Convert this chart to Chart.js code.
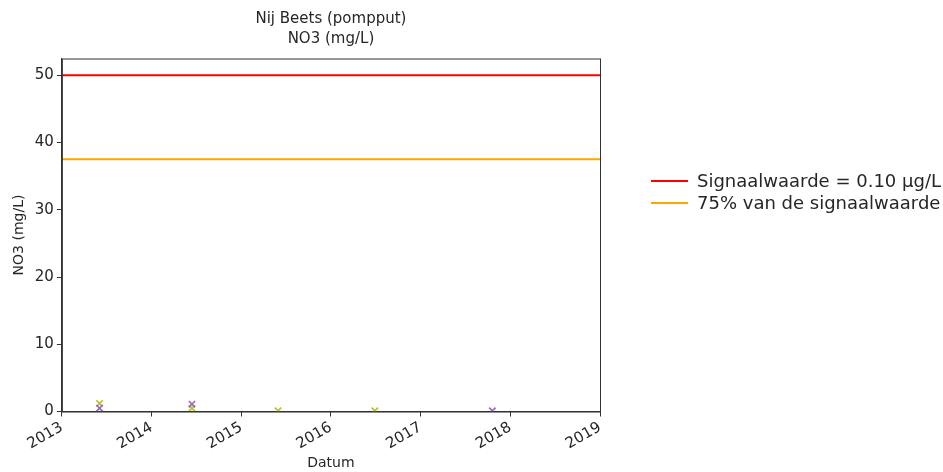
<!DOCTYPE html>
<html>
<head>
<meta charset="utf-8">
<script src="https://cdn.jsdelivr.net/npm/chart.js@4.4.1/dist/chart.umd.min.js"></script>
<style>
  html, body { margin: 0; padding: 0; background: #fff; }
  #wrap { width: 943px; height: 472px; }
</style>
</head>
<body>
<div id="wrap"><canvas id="no3Chart"></canvas></div>
<script>
const olivePoints = [
  { x: 2013.42, y: 1.2 },
  { x: 2014.45, y: 0.5 },
  { x: 2015.41, y: 0.1 },
  { x: 2016.49, y: 0.1 },
];
const purplePoints = [
  { x: 2013.42, y: 0.5 },
  { x: 2014.45, y: 1.1 },
  { x: 2017.80, y: 0.1 },
];
const xRange = [2013, 2019];
const yMax = 52.5;
const yTicks = [0, 10, 20, 30, 40, 50];
const signaalwaarde = 50;
const signaal75 = 37.5;
const legendLabels = ["Signaalwaarde = 0.10 µg/L", "75% van de signaalwaarde"];

const FONT = "'DejaVu Sans', sans-serif";
const TXT = "#262626";

// box around the plot like matplotlib
const frame = {
  id: "frame",
  afterDatasetsDraw(chart) {
    const { ctx, chartArea: a } = chart;
    ctx.save();
    ctx.strokeStyle = "#333";
    ctx.lineWidth = 1;
    ctx.strokeRect(a.left + 0.5, a.top + 0.5, a.right - a.left, a.bottom - a.top);
    ctx.restore();
  },
};

// legend outside the plot on the right
const sideLegend = {
  id: "sideLegend",
  afterDraw(chart) {
    const { ctx } = chart;
    ctx.save();
    ctx.font = "18px " + FONT;
    ctx.textBaseline = "middle";
    chart.data.datasets
      .filter((d) => d.inLegend)
      .forEach((d, i) => {
        const y = 181 + i * 22;
        ctx.strokeStyle = d.borderColor;
        ctx.lineWidth = 2;
        ctx.beginPath();
        ctx.moveTo(651, y);
        ctx.lineTo(688, y);
        ctx.stroke();
        ctx.fillStyle = TXT;
        ctx.fillText(d.label, 697, y + 1);
      });
    ctx.restore();
  },
};

new Chart(document.getElementById("no3Chart"), {
  type: "line",
  data: {
    datasets: [
      {
        label: legendLabels[0],
        inLegend: true,
        data: [{ x: xRange[0], y: signaalwaarde }, { x: xRange[1], y: signaalwaarde }],
        borderColor: "#ff0000",
        borderWidth: 2,
        pointRadius: 0,
      },
      {
        label: legendLabels[1],
        inLegend: true,
        data: [{ x: xRange[0], y: signaal75 }, { x: xRange[1], y: signaal75 }],
        borderColor: "#ffa500",
        borderWidth: 2,
        pointRadius: 0,
      },
      {
        label: "meting 1",
        data: purplePoints,
        showLine: false,
        pointStyle: "crossRot",
        pointRadius: 4.5,
        borderWidth: 1.6,
        borderColor: "#9467bd",
        clip: 0,
      },
      {
        label: "meting 2",
        data: olivePoints,
        showLine: false,
        pointStyle: "crossRot",
        pointRadius: 4.5,
        borderWidth: 1.6,
        borderColor: "#bcbd22",
        clip: 0,
      },
    ],
  },
  options: {
    responsive: true,
    maintainAspectRatio: false,
    animation: false,
    layout: { padding: { top: 7, right: 343, bottom: 0, left: 7 } },
    plugins: {
      legend: { display: false },
      tooltip: { enabled: false },
      title: {
        display: true,
        fullSize: false,
        text: ["Nij Beets (pompput)", "NO3 (mg/L)"],
        color: TXT,
        font: { family: FONT, size: 15, weight: "normal", lineHeight: 1.35 },
        padding: { top: 2, bottom: 9 },
      },
    },
    scales: {
      x: {
        type: "linear",
        min: xRange[0],
        max: xRange[1],
        grid: { drawOnChartArea: false, tickLength: 5, color: "#333" },
        border: { color: "#333" },
        ticks: {
          stepSize: 1,
          minRotation: 30,
          maxRotation: 30,
          padding: 2,
          color: TXT,
          font: { family: FONT, size: 15 },
          callback: (v) => String(v),
        },
        title: { display: true, text: "Datum", color: TXT, font: { family: FONT, size: 14 }, padding: 0 },
      },
      y: {
        min: 0,
        max: yMax,
        afterBuildTicks: (axis) => {
          axis.ticks = yTicks.map((v) => ({ value: v }));
        },
        grid: { drawOnChartArea: false, tickLength: 5, color: "#333" },
        border: { color: "#333" },
        ticks: {
          color: TXT,
          font: { family: FONT, size: 15 },
          padding: 3,
        },
        title: { display: true, text: "NO3 (mg/L)", color: TXT, font: { family: FONT, size: 14 }, padding: 4 },
      },
    },
  },
  plugins: [frame, sideLegend],
});
</script>
</body>
</html>
